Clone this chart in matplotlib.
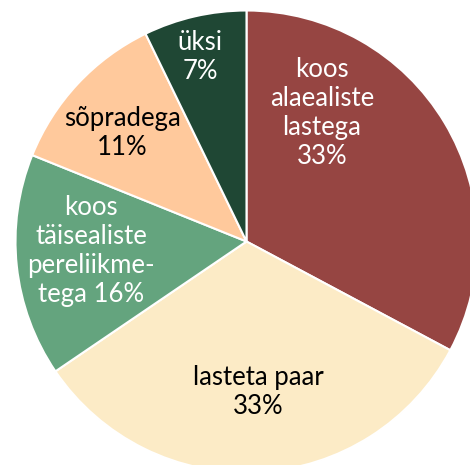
import matplotlib.pyplot as plt

# leibkonna tüübid, päripäeva alates ülevalt
labels = ['koos\nalaealiste\nlastega\n33%', 'lasteta paar\n33%',
          'koos\ntäisealiste\npereliikme-\ntega 16%', 'sõpradega\n11%', 'üksi\n7%']
shares = [32.8, 32.7, 15.6, 11.7, 7.2]
colors = ['#964542', '#FCEBC6', '#64A47E', '#FFC99C', '#1F4734']
text_colors = ['white', 'black', 'white', 'black', 'white']

# label centres in pixels of the 470x465 picture
label_px = [(322, 113), (258, 392), (91, 251), (122, 133), (200, 57)]

cx, cy, r = 246.5, 241.5, 231
W, H = 470, 465

fig = plt.figure(figsize=(W / 100, H / 100), dpi=100)
ax = fig.add_axes([0, 0, 1, 1])
ax.pie(shares, colors=colors, startangle=90, counterclock=False, radius=1,
       wedgeprops=dict(edgecolor='white', linewidth=1.5))
ax.set_xlim(-cx / r, (W - cx) / r)
ax.set_ylim((cy - H) / r, cy / r)
ax.set_aspect('equal')
ax.axis('off')

for lab, (px, py), tc in zip(labels, label_px, text_colors):
    ax.text((px - cx) / r, (cy - py) / r, lab, ha='center', va='center',
            color=tc, fontsize=18.5, family='Lato', linespacing=1.2)

fig.savefig('out.png', dpi=100)
